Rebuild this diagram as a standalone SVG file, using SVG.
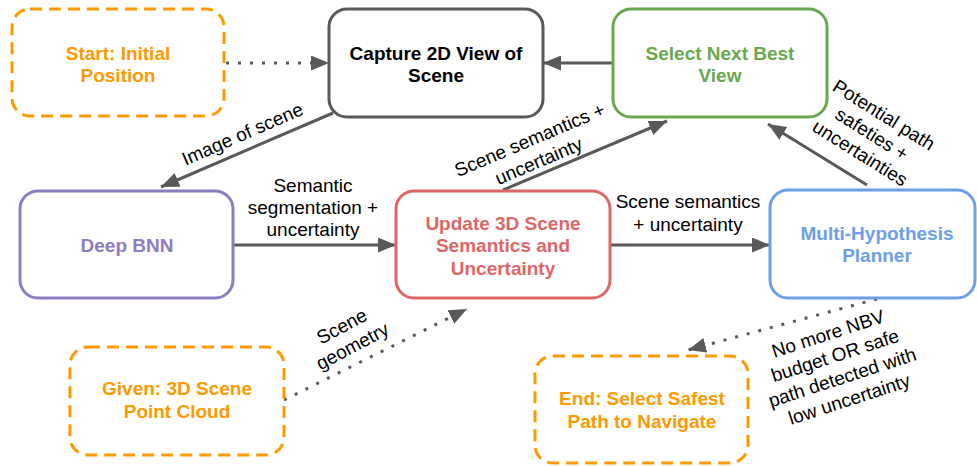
<svg xmlns="http://www.w3.org/2000/svg" width="977" height="466" viewBox="0 0 977 466">
  <defs>
    <marker id="arrow" markerUnits="userSpaceOnUse" markerWidth="19" markerHeight="15" refX="18" refY="7.5" orient="auto">
      <path d="M0,0 L18,7.5 L0,15 z" fill="#595959"/>
    </marker>
    <style>
      .box { fill: #ffffff; stroke-width: 3; }
      .dash { stroke: #ff9900; stroke-dasharray: 12 7; }
      .lbl { font-family: "Liberation Sans", Arial, sans-serif; font-size: 19px; font-weight: bold; text-anchor: middle; }
      .edge { stroke: #595959; stroke-width: 3; fill: none; marker-end: url(#arrow); }
      .dots { stroke-dasharray: 3 9; }
      .elbl { font-family: "Liberation Sans", Arial, sans-serif; font-size: 19px; fill: #000000; text-anchor: middle; }
    </style>
  </defs>
  <rect width="977" height="466" fill="#ffffff"/>

  <!-- connectors -->
  <g id="connectors">
    <line class="edge dots" x1="226" y1="63" x2="329" y2="63"/>
    <line class="edge" x1="613" y1="63" x2="543" y2="63"/>
    <line class="edge" x1="333" y1="113" x2="161" y2="187"/>
    <line class="edge" x1="233" y1="245" x2="396" y2="245"/>
    <line class="edge" x1="610" y1="245" x2="770" y2="245"/>
    <line class="edge" x1="503" y1="190" x2="667" y2="121"/>
    <line class="edge" x1="867" y1="185" x2="768" y2="124"/>
    <line class="edge dots" x1="284" y1="400" x2="467" y2="309"/>
    <line class="edge dots" x1="877" y1="299" x2="688" y2="350"/>

    <text class="elbl" transform="translate(245,140) rotate(-23.5)">Image of scene</text>
    <text class="elbl"><tspan x="313" y="191.5">Semantic</tspan><tspan x="313" y="214">segmentation +</tspan><tspan x="313" y="236">uncertainty</tspan></text>
    <text class="elbl"><tspan x="688" y="208">Scene semantics</tspan><tspan x="688" y="230.5">+ uncertainty</tspan></text>
    <g transform="translate(534,150) rotate(-23)">
      <text class="elbl"><tspan x="0" y="-4.5">Scene semantics +</tspan><tspan x="0" y="18.5">uncertainty</tspan></text>
    </g>
    <g transform="translate(872,134) rotate(32)">
      <text class="elbl"><tspan x="0" y="-16">Potential path</tspan><tspan x="0" y="6.5">safeties +</tspan><tspan x="0" y="29">uncertainties</tspan></text>
    </g>
    <g transform="translate(347,336) rotate(-28)">
      <text class="elbl"><tspan x="0" y="-4.5">Scene</tspan><tspan x="0" y="18">geometry</tspan></text>
    </g>
    <g transform="translate(838.5,366) rotate(-18)">
      <text class="elbl"><tspan x="0" y="-27.5">No more NBV</tspan><tspan x="0" y="-4.5">budget OR safe</tspan><tspan x="0" y="18.5">path detected with</tspan><tspan x="0" y="41.5">low uncertainty</tspan></text>
    </g>
  </g>

  <!-- nodes -->
  <g id="start">
    <rect class="box dash" x="12" y="9" width="212" height="107" rx="18"/>
    <text class="lbl" fill="#ff9900"><tspan x="118" y="59.5">Start: Initial</tspan><tspan x="118" y="82">Position</tspan></text>
  </g>
  <g id="capture">
    <rect class="box" stroke="#595959" x="329" y="9" width="214" height="108" rx="18"/>
    <text class="lbl" fill="#000000"><tspan x="436" y="59.5">Capture 2D View of</tspan><tspan x="436" y="82">Scene</tspan></text>
  </g>
  <g id="select-nbv">
    <rect class="box" stroke="#6aa84f" x="613" y="9" width="214" height="108" rx="18"/>
    <text class="lbl" fill="#6aa84f"><tspan x="720" y="59.5">Select Next Best</tspan><tspan x="720" y="82">View</tspan></text>
  </g>
  <g id="deep-bnn">
    <rect class="box" stroke="#8e7cc3" x="20" y="191" width="213" height="107" rx="18"/>
    <text class="lbl" fill="#8e7cc3" x="127" y="251.5">Deep BNN</text>
  </g>
  <g id="update-3d">
    <rect class="box" stroke="#e06666" x="396" y="191" width="214" height="107" rx="18"/>
    <text class="lbl" fill="#e06666"><tspan x="503" y="229.5">Update 3D Scene</tspan><tspan x="503" y="252">Semantics and</tspan><tspan x="503" y="274.5">Uncertainty</tspan></text>
  </g>
  <g id="planner">
    <rect class="box" stroke="#6d9eeb" x="770" y="190" width="205" height="108" rx="18"/>
    <text class="lbl" fill="#6d9eeb"><tspan x="877" y="240">Multi-Hypothesis</tspan><tspan x="877" y="262">Planner</tspan></text>
  </g>
  <g id="given">
    <rect class="box dash" x="70" y="347" width="214" height="108" rx="18"/>
    <text class="lbl" fill="#ff9900"><tspan x="177" y="395">Given: 3D Scene</tspan><tspan x="177" y="418">Point Cloud</tspan></text>
  </g>
  <g id="end">
    <rect class="box dash" x="535" y="356" width="213" height="107" rx="18"/>
    <text class="lbl" fill="#ff9900"><tspan x="642" y="405">End: Select Safest</tspan><tspan x="642" y="428">Path to Navigate</tspan></text>
  </g>
</svg>
